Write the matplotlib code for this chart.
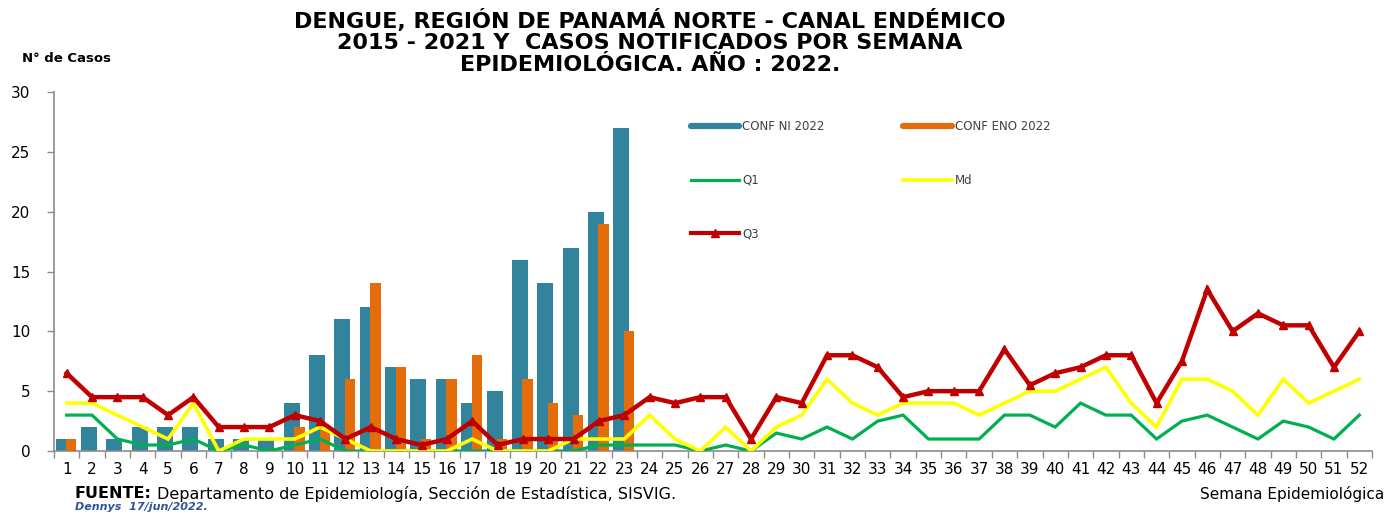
import matplotlib
matplotlib.use("Agg")
import matplotlib.pyplot as plt
from matplotlib.lines import Line2D
import numpy as np

weeks = [str(w) for w in range(1, 53)]
conf_ni = [1, 2, 1, 2, 2, 2, 1, 1, 1, 4, 8, 11, 12, 7, 6, 6, 4, 5, 16, 14, 17, 20, 27]
conf_eno = [1, 0, 0, 0, 0, 0, 0, 0, 0, 2, 2, 6, 14, 7, 1, 6, 8, 1, 6, 4, 3, 19, 10]
q1 = [3, 3, 1, 0.5, 0.5, 1, 0, 0.5, 0, 0.5, 1, 0, 0, 0, 0, 0, 0, 0, 0, 0, 0, 0.5, 0.5, 0.5,
      0.5, 0, 0.5, 0, 1.5, 1, 2, 1, 2.5, 3, 1, 1, 1, 3, 3, 2, 4, 3, 3, 1, 2.5, 3, 2, 1, 2.5,
      2, 1, 3]
md = [4, 4, 3, 2, 1, 4, 0, 1, 1, 1, 2, 1, 0, 0, 0, 0, 1, 0, 0, 0, 1, 1, 1, 3, 1, 0, 2, 0, 2,
      3, 6, 4, 3, 4, 4, 4, 3, 4, 5, 5, 6, 7, 4, 2, 6, 6, 5, 3, 6, 4, 5, 6]
q3 = [6.5, 4.5, 4.5, 4.5, 3, 4.5, 2, 2, 2, 3, 2.5, 1, 2, 1, 0.5, 1, 2.5, 0.5, 1, 1, 1, 2.5,
      3, 4.5, 4, 4.5, 4.5, 1, 4.5, 4, 8, 8, 7, 4.5, 5, 5, 5, 8.5, 5.5, 6.5, 7, 8, 8, 4, 7.5,
      13.5, 10, 11.5, 10.5, 10.5, 7, 10]
yticks = [0, 5, 10, 15, 20, 25, 30]

C_NI = "#31849B"
C_ENO = "#E46C0A"
C_Q1 = "#00B050"
C_MD = "#FFFF00"
C_Q3 = "#C00000"
GRAY = "#8C8C8C"

W, H = 1387, 513
fig = plt.figure(figsize=(W / 100, H / 100), dpi=100)
ax = fig.add_axes([54 / W, 1 - 451 / H, (1372 - 54) / W, (451 - 92) / H])

x_all = np.arange(len(weeks))
x_bar = np.arange(len(conf_ni))
ax.bar(x_bar - 0.12, conf_ni, width=0.63, color=C_NI, zorder=2)
ax.bar(np.arange(len(conf_eno)) + 0.18, conf_eno, width=0.41, color=C_ENO, zorder=3)

ax.plot(x_all, q1, color=C_Q1, lw=2.3, zorder=4, solid_joinstyle="miter")
ax.plot(x_all, md, color=C_MD, lw=2.6, zorder=5, solid_joinstyle="miter")
ax.plot(x_all, q3, color=C_Q3, lw=3.2, marker="^", ms=5.5, zorder=6, solid_joinstyle="miter")

ax.set_xlim(-0.5, len(weeks) - 0.5)
ax.set_ylim(0, 30)
ax.set_yticks(yticks)
ax.set_xticks(x_all)
ax.set_xticklabels(weeks)
ax.set_xticks(np.arange(-0.5, len(weeks), 1.0), minor=True)
ax.tick_params(axis="x", which="major", length=0, pad=8, labelsize=11)
ax.tick_params(axis="x", which="minor", length=5, color=GRAY, width=1, direction="out")
ax.tick_params(axis="y", length=5, color=GRAY, width=1, pad=12, labelsize=11)
for s in ["top", "right"]:
    ax.spines[s].set_visible(False)
for s in ["left", "bottom"]:
    ax.spines[s].set_color(GRAY)
    ax.spines[s].set_linewidth(1.2)

handles = [
    Line2D([], [], color=C_NI, lw=4.5, solid_capstyle="round"),
    Line2D([], [], color=C_Q1, lw=2.3),
    Line2D([], [], color=C_Q3, lw=3, marker="^", ms=5.5),
    Line2D([], [], color=C_ENO, lw=4.5, solid_capstyle="round"),
    Line2D([], [], color=C_MD, lw=2.6),
]
labels = ["CONF NI 2022", "Q1", "Q3", "CONF ENO 2022", "Md"]
leg = ax.legend(handles, labels, ncol=2, loc="upper left",
                bbox_to_anchor=((691 - 54) / 1318, (451 - 120) / 359),
                frameon=False, fontsize=8.5, handlelength=4.1, handletextpad=0.25,
                labelspacing=3.45, columnspacing=6.65, borderpad=0, borderaxespad=0,
                numpoints=1)
for t in leg.get_texts():
    t.set_color("#404040")

fig.text(650 / W, 1 - 9 / H,
         "DENGUE, REGIÓN DE PANAMÁ NORTE - CANAL ENDÉMICO\n"
         "2015 - 2021 Y  CASOS NOTIFICADOS POR SEMANA\n"
         "EPIDEMIOLÓGICA. AÑO : 2022.",
         ha="center", va="top", fontsize=16, fontweight="bold", linespacing=1.08)
fig.text(22 / W, 1 - 58 / H, "N° de Casos", ha="left", va="center",
         fontsize=9.5, fontweight="bold")

t1 = fig.text(75 / W, 1 - 494 / H, "FUENTE:", ha="left", va="center",
              fontsize=11.5, fontweight="bold")
fig.canvas.draw()
bb = t1.get_window_extent(fig.canvas.get_renderer())
fig.text((bb.x1 + 5) / W, 1 - 494 / H,
         "Departamento de Epidemiología, Sección de Estadística, SISVIG.",
         ha="left", va="center", fontsize=11.5)
fig.text(1384 / W, 1 - 494 / H, "Semana Epidemiológica", ha="right", va="center",
         fontsize=11)
fig.text(75 / W, 1 - 507 / H, "Dennys  17/jun/2022.", ha="left", va="center",
         fontsize=8, fontstyle="italic", fontweight="bold", color="#2E5597")

fig.savefig("out.png", dpi=100)
